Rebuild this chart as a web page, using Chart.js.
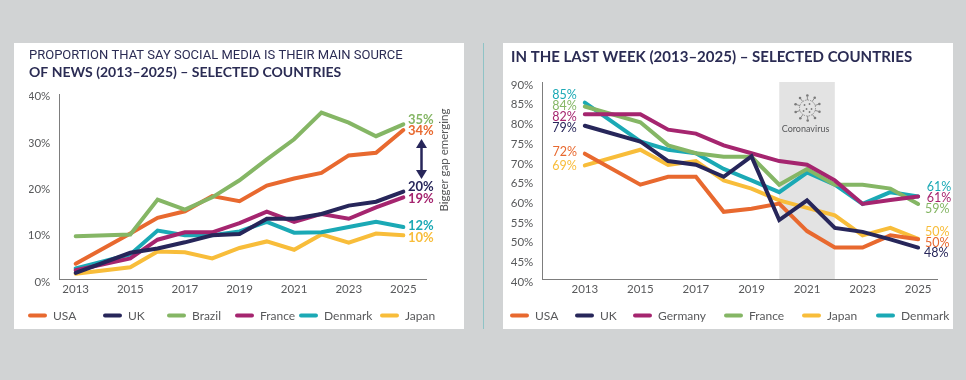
<!DOCTYPE html>
<html><head><meta charset="utf-8">
<script src="https://cdn.jsdelivr.net/npm/chart.js@4"></script>
<style>
html,body{margin:0;padding:0;width:966px;height:380px;background:#d1d3d4;overflow:hidden}
.panel{position:absolute;top:43px;width:450px;height:286px;background:#fff}
.panel canvas{display:block}
#divider{position:absolute;left:483px;top:43px;width:1px;height:286px;background:#8fc3c6}
</style></head><body>
<div class="panel" style="left:14px"><canvas id="left" width="450" height="286"></canvas></div>
<div id="divider"></div>
<div class="panel" style="left:503px"><canvas id="right" width="450" height="286"></canvas></div>
<script>
// ---------- data ----------
const years = [2013,2014,2015,2016,2017,2018,2019,2020,2021,2022,2023,2024,2025];

const socialUSA     = [3.5,null,10.4,14.0,15.5,19.0,17.8,21.4,23.0,24.3,28.3,28.9,34.1];
const socialUK      = [1.4,null,6.0,7.0,8.4,10.0,10.3,13.8,13.8,14.9,16.8,17.7,20.0];
const socialBrazil  = [9.8,null,10.2,18.2,15.9,18.7,22.6,27.4,32.0,38.1,35.8,32.7,35.4];
const socialFrance  = [2.0,null,4.7,9.0,10.7,10.7,12.8,15.4,13.1,14.9,13.8,16.4,18.7];
const socialDenmark = [2.4,null,5.6,11.1,10.0,10.0,10.9,13.1,10.6,10.7,11.9,13.1,11.9];
const socialJapan   = [1.2,null,2.7,6.3,6.1,4.7,7.1,8.6,6.7,10.2,8.3,10.4,10.0];

const weekUSA     = [71.9,null,64.0,66.0,66.0,57.1,57.9,59.2,52.2,48.0,48.0,51.1,50.1];
const weekUK      = [79.0,null,75.0,70.0,69.1,66.0,71.2,55.0,60.0,53.0,52.0,50.1,48.0];
const weekGermany = [81.9,null,81.9,78.0,77.0,74.0,72.0,70.0,69.1,65.1,59.1,60.1,61.0];
const weekFrance  = [83.9,null,79.9,74.0,72.0,71.1,71.1,64.0,68.0,64.0,64.0,63.0,59.1];
const weekJapan   = [68.9,null,72.9,69.0,70.0,65.1,63.0,60.0,58.1,56.2,51.1,53.0,50.2];
const weekDenmark = [84.9,null,75.0,72.9,72.0,68.0,65.1,62.1,67.1,64.0,59.1,62.1,61.0];

const xTickYears = [2013,2015,2017,2019,2021,2023,2025];
const socialTicks = [0,10,20,30,40];
const weekTicks = [40,45,50,55,60,65,70,75,80,85,90];
const covidSpan = [2020,2022];

const C = {usa:'#e8692f',uk:'#27265a',green:'#85b665',mag:'#a5256f',teal:'#1ba9b5',yel:'#f8bd3a'};
const GREY = '#58595b', NAVY = '#2b2c54';
const FONT = 'Lato, "Noto Sans", sans-serif';

function ds(label, values, color, order){
  return {label, order, borderColor:color, backgroundColor:color, borderWidth:4,
    pointRadius:0, tension:0, spanGaps:true, borderJoinStyle:'miter', borderCapStyle:'round',
    data: years.map((x,i)=>({x,y:values[i]})).filter(p=>p.y!==null)};
}

function overlay(cfg){
  return {id:'overlay',
    beforeDatasetsDraw(chart){
      if(!cfg.band) return;
      const c=chart.ctx,a=chart.chartArea,x=chart.scales.x;
      const x0=x.getPixelForValue(cfg.band[0]),x1=x.getPixelForValue(cfg.band[1]);
      c.save();c.fillStyle='#e3e3e3';c.fillRect(x0,a.top,x1-x0,a.bottom-a.top);
      // virus icon
      const cx=(x0+x1)/2+.5,cy=a.top+26;
      c.strokeStyle='#7a7a7a';c.fillStyle='#7a7a7a';c.lineWidth=.8;
      c.setLineDash([1.5,1]);c.beginPath();c.arc(cx,cy,8,0,7);c.stroke();c.setLineDash([]);
      for(let i=0;i<10;i++){const t=i*Math.PI/5+.3;
        c.beginPath();c.moveTo(cx+8*Math.cos(t),cy+8*Math.sin(t));c.lineTo(cx+11.5*Math.cos(t),cy+11.5*Math.sin(t));c.stroke();
        c.beginPath();c.arc(cx+12.5*Math.cos(t),cy+12.5*Math.sin(t),1.3,0,7);c.fill();}
      [[-3,-3],[2,-4],[4,1],[-1,1],[-4,3],[2,4]].forEach(p=>{c.beginPath();c.arc(cx+p[0],cy+p[1],.9,0,7);c.fill();});
      c.font='9px '+FONT;c.fillStyle=GREY;c.textAlign='center';c.textBaseline='middle';
      c.fillText('Coronavirus',cx-2,a.top+47);
      c.restore();
    },
    afterDraw(chart){
      const c=chart.ctx;c.save();
      c.translate(-cfg.ox,-cfg.oy);
      // end labels
      c.textBaseline='middle';
      cfg.labels.forEach(l=>{c.font=(cfg.labelWeight||'400')+' '+cfg.labelSize+'px '+FONT;c.fillStyle=l[3];
        c.textAlign=l[4]||'left';c.fillText(l[0],l[1],l[2]);});
      // legend
      chart.data.datasets.slice().sort((a,b)=>a.legendIdx-b.legendIdx).forEach((d,i)=>{
        const p=cfg.legendX[i];
        c.strokeStyle=d.borderColor;c.lineWidth=4;c.lineCap='round';
        c.beginPath();c.moveTo(p+2,315.5);c.lineTo(p+17,315.5);c.stroke();
        c.font='12px '+FONT;c.fillStyle=GREY;c.textAlign='left';c.fillText(d.label,p+25,316);
      });
      if(cfg.arrow){
        const x=421.5,t=139,b=179;
        c.strokeStyle=C.uk;c.fillStyle=C.uk;c.lineWidth=2.5;
        c.beginPath();c.moveTo(x,t+6);c.lineTo(x,b-6);c.stroke();
        c.beginPath();c.moveTo(x,t);c.lineTo(x-5.5,t+9);c.lineTo(x+5.5,t+9);c.fill();
        c.beginPath();c.moveTo(x,b);c.lineTo(x-5.5,b-9);c.lineTo(x+5.5,b-9);c.fill();
        c.save();c.translate(444,160);c.rotate(-Math.PI/2);
        c.font='11.5px '+FONT;c.fillStyle=GREY;c.textAlign='center';c.fillText('Bigger gap emerging',0,0);c.restore();
      }
      c.restore();
    }};
}

function make(id,o){
  const d=o.datasets;d.forEach((s,i)=>s.legendIdx=i);
  new Chart(document.getElementById(id),{type:'line',
    data:{datasets:d},
    plugins:[overlay(o.overlay)],
    options:{responsive:false,animation:false,
      layout:{padding:{left:o.padL,right:o.padR,top:0,bottom:0}},
      plugins:{legend:{display:false},tooltip:{enabled:false},
        title:{display:true,text:o.title,align:'start',color:NAVY,
          font:{family:o.titleFamily||FONT,size:o.titleSize,weight:o.titleWeight},padding:o.titlePad},
        subtitle:{display:!!o.subtitle,text:o.subtitle||'',align:'start',color:NAVY,
          font:{family:FONT,size:14,weight:'700'},padding:o.subPad||0}},
      scales:{
        x:{type:'linear',min:o.xMin,max:o.xMax,
          afterBuildTicks:s=>{s.ticks=xTickYears.map(value=>({value}));},
          afterFit:s=>{s.height=50;},
          grid:{display:false,drawTicks:false},border:{color:'#7d7d7d',width:1},
          ticks:{autoSkip:false,maxRotation:0,padding:3,color:GREY,font:{family:FONT,size:11.5},callback:v=>String(v)}},
        y:{type:'linear',display:false,min:o.yMin,max:o.yMax},
        yTicks:{type:'linear',position:'left',min:o.tMin,max:o.tMax,
          afterBuildTicks:s=>{s.ticks=o.ticks.map(value=>({value}));},
          afterFit:s=>{s.width=o.axisW;},
          grid:{display:false,drawTicks:false},border:{color:'#7d7d7d',width:1},
          ticks:{autoSkip:false,padding:9,color:GREY,font:{family:FONT,size:11.5},callback:v=>v+'%'}}
      }}});
}

make('left',{
  title:'PROPORTION THAT SAY SOCIAL MEDIA IS THEIR MAIN SOURCE',
  subtitle:'OF NEWS (2013–2025) – SELECTED COUNTRIES',
  titleFamily:'Roboto, Lato, sans-serif',
  titleSize:13,titleWeight:'400',titlePad:{top:5,bottom:0},subPad:{top:0,bottom:14},
  padL:15,padR:38,axisW:30.3,
  xMin:2012.4,xMax:2025.83,yMin:0,yMax:42.27,tMin:0.65,tMax:40.5,ticks:socialTicks,
  datasets:[ds('USA',socialUSA,C.usa,1),ds('UK',socialUK,C.uk,2),ds('Brazil',socialBrazil,C.green,0),
            ds('France',socialFrance,C.mag,3),ds('Denmark',socialDenmark,C.teal,4),ds('Japan',socialJapan,C.yel,5)],
  overlay:{ox:14,oy:43,labelSize:13,labelWeight:'700',arrow:true,legendX:[28,103,167,235,299,380],
    labels:[['35%',408,120,C.green],['34%',408,131,C.usa],['20%',408,187,C.uk],['19%',408,198.5,C.mag],['12%',408,226.3,C.teal],['10%',408,238.3,C.yel]]}
});

make('right',{
  title:'IN THE LAST WEEK (2013–2025) – SELECTED COUNTRIES',
  titleSize:15,titleWeight:'700',titlePad:{top:5,bottom:16},
  padL:8,padR:15.7,axisW:31.3,
  xMin:2011.47,xMax:2025.69,yMin:40,yMax:90.13,tMin:40.81,tMax:90.76,ticks:weekTicks,
  datasets:[ds('USA',weekUSA,C.usa,3),ds('UK',weekUK,C.uk,0),ds('Germany',weekGermany,C.mag,1),
            ds('France',weekFrance,C.green,2),ds('Japan',weekJapan,C.yel,5),ds('Denmark',weekDenmark,C.teal,4)],
  overlay:{ox:503,oy:43,labelSize:12.5,band:covidSpan,legendX:[510,575,633,724,802,876],
    labels:[['85%',576.7,94.7,C.teal,'right'],['84%',576.7,105.7,C.green,'right'],['82%',576.7,117,C.mag,'right'],['79%',576.7,128.3,C.uk,'right'],['72%',577,151.7,C.usa,'right'],['69%',576.7,165.7,C.yel,'right'],
            ['61%',926.7,187.3,C.teal],['61%',926.7,198.3,C.mag],['59%',925,208.7,C.green],['50%',925,232,C.yel],['50%',925,243,C.usa],['48%',924,253,C.uk]]}
});
</script>
</body></html>
